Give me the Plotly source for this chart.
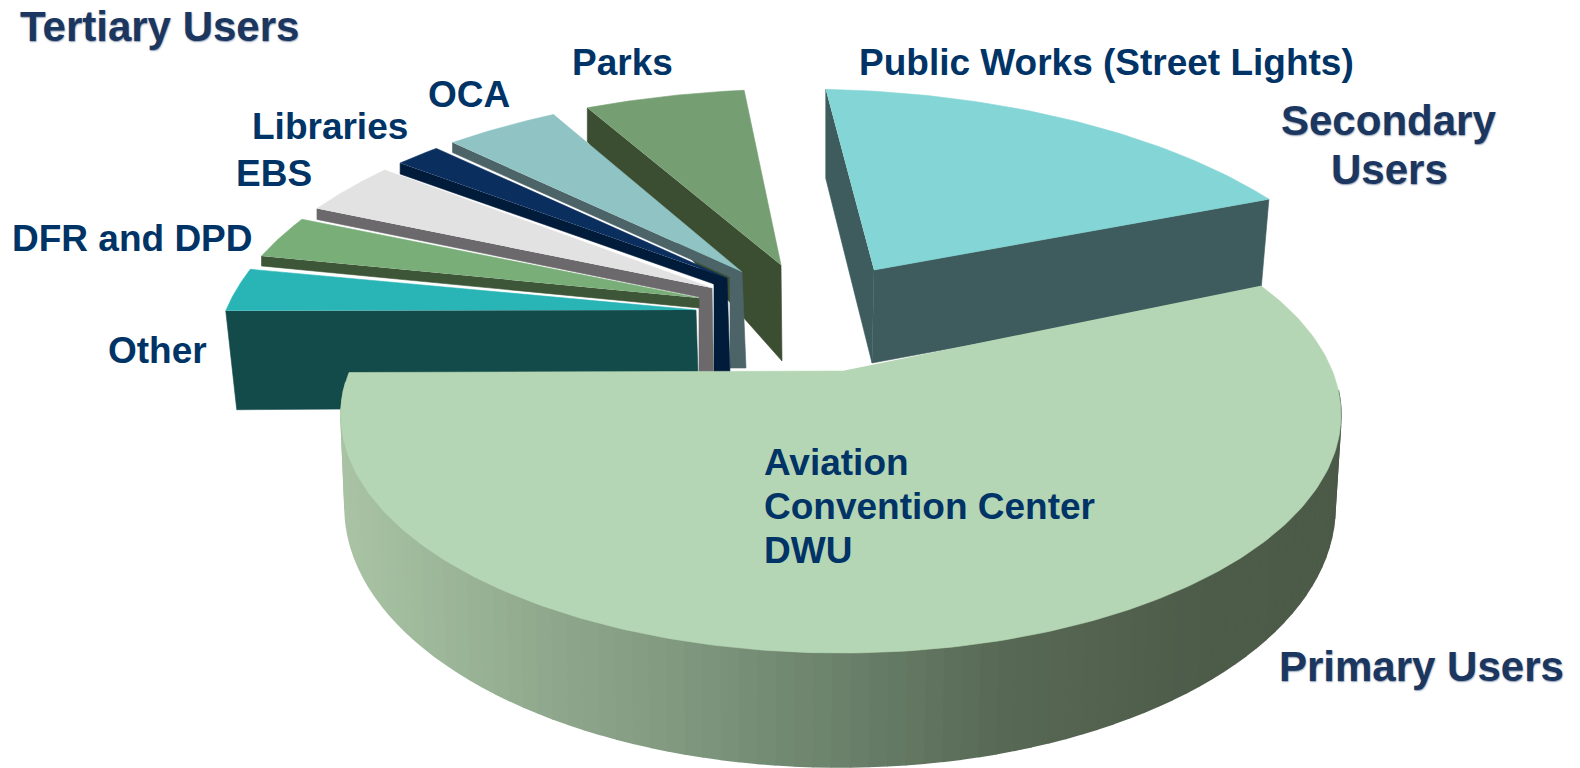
import numpy as np
import plotly.graph_objects as go

# --- data: share of usage (percent of the full circle), clockwise from "Other"
slice_names = ["Other", "DFR and DPD", "EBS", "Libraries", "OCA", "Parks",
               "Public Works (Street Lights)", "Aviation / Convention Center / DWU"]
slice_values = [2.5, 2.4, 2.9, 1.3, 3.2, 4.4, 14.1, 62.0]

# --- styling / layout of the 3-D look
top_colors = ["#29B4B6", "#79AE78", "#E2E2E2", "#0A2E5E", "#8FC3C4", "#759F72", "#84D5D5", "#B5D6B4"]
side_colors = ["#134A4A", "#3E5638", "#6B696B", "#011B3B", "#4C6468", "#3B4E32", "#3E5C5E"]
START_DEG = 169.0
gaps_deg = [3.0, 2.7, 2.1, 2.0, 3.6, 8.0, 3.8]
CX, CY, RX, RY = 800, 363, 585, 274           # back ellipse
P_TOP = (841, 415, 500, 238)                  # primary slice, top rim
P_BOT = (840, 507, 495, 260)                  # primary slice, bottom rim
# explode offsets of each slice's tip from the back-ellipse centre
tip_dx = [-104, -101, -88, -73, -58, -19, 74]
tip_dy = [-53, -65, -75, -85, -91, -98, -93]
primary_tip = (842, 371)
# extrusion: drop and shift of outer corner, inner knee, foot of the side wall
drop_outer = [99, 10, 11, 11, 10, 34, 89]
shift_outer = [11, 0, 0, 0, 0, 0, 0]
knee_dx = [3, 0, -13, -13, -12, None, None]
knee_dy = [97, 10, 9, 6, 5, None, None]
foot_dx = [3, 0, 2, 3, 4, 1, -2]
foot_dy = [97, 10, 112, 94, 96, 96, 93]

grad_x = [340, 700, 1000, 1200, 1345]
grad_r = [170, 125, 88, 78, 76]
grad_g = [196, 150, 106, 92, 90]
grad_b = [165, 125, 86, 74, 72]
BAND_COUNT = 90

label_color = "#003366"
blur_color = "#1B365F"
labels = [
    ("Parks", 570, 62), ("OCA", 426, 94), ("Libraries", 250, 126), ("EBS", 234, 173),
    ("DFR and DPD", 10, 238), ("Other", 106, 350),
    ("Public Works (Street Lights)", 857, 62),
    ("Aviation", 762, 462), ("Convention Center", 762, 506), ("DWU", 762, 550),
]
blur_labels = [("Tertiary Users", 18, 26), ("Secondary", 1279, 120), ("Users", 1329, 169),
               ("Primary Users", 1277, 666)]

fig = go.Figure()


def poly(xs, ys, color, w=0.6):
    fig.add_trace(go.Scatter(x=list(xs), y=list(ys), mode="lines", fill="toself", fillcolor=color,
                             line=dict(color=color, width=w), hoverinfo="skip", showlegend=False))


def rim(t_deg, e):
    t = np.radians(t_deg)
    return e[0] + e[2] * np.cos(t), e[1] - e[3] * np.sin(t)


# angular extents follow from the values
starts, ends = [], []
a = START_DEG
for i, v in enumerate(slice_values):
    starts.append(a)
    ends.append(a - v * 3.6)
    if i < len(gaps_deg):
        a = ends[-1] - gaps_deg[i]

back = (CX, CY, RX, RY)
parts = []
for i in range(len(slice_values) - 1):
    ts = np.linspace(starts[i], ends[i], 60)
    ax_, ay_ = rim(ts, back)
    tip = (CX + tip_dx[i], CY + tip_dy[i])
    # side wall hangs below the radial edge that faces the viewer
    if i < 6:
        ox, oy = ax_[0], ay_[0]
        sx = [ox, ox + shift_outer[i]]
        sy = [oy, oy + drop_outer[i]]
        if knee_dx[i] is not None:
            kx, ky = tip[0] + knee_dx[i], tip[1] + knee_dy[i]
            sx += [kx, kx]
            sy += [ky, tip[1] + foot_dy[i]]
        sx += [tip[0] + foot_dx[i], tip[0]]
        sy += [tip[1] + foot_dy[i], tip[1]]
        side = [(sx, sy)]
    else:
        # secondary shows both radial walls
        fx, fy = tip[0] + foot_dx[i], tip[1] + foot_dy[i]
        side = [([ax_[0], ax_[0], fx, tip[0]], [ay_[0], ay_[0] + drop_outer[i], fy, tip[1]]),
                ([tip[0], ax_[-1], ax_[-1] - 8, fx], [tip[1], ay_[-1], ay_[-1] + 92, fy])]
    parts.append((i, side, ax_, ay_, tip))

# paint back to front
for i in [5, 4, 3, 2, 1, 0, 6]:
    _, side, ax_, ay_, tip = parts[i]
    for sx, sy in side:
        poly(sx, sy, side_colors[i])
    poly(list(ax_) + [tip[0]], list(ay_) + [tip[1]], top_colors[i])

# primary slice: shaded outer wall built from bands, then the top face
bands = np.linspace(172, 366, BAND_COUNT + 1)
for t0, t1 in zip(bands[:-1], bands[1:]):
    tt = np.linspace(t0, t1, 3)
    xa, ya = rim(tt, P_TOP)
    xb, yb = rim(tt[::-1], P_BOT)
    xm = 0.5 * (xa.mean() + xb.mean())
    c = "rgb(%d,%d,%d)" % (np.interp(xm, grad_x, grad_r), np.interp(xm, grad_x, grad_g),
                           np.interp(xm, grad_x, grad_b))
    poly(np.r_[xa, xb], np.r_[ya, yb], c, w=1.6)

ts = np.linspace(starts[7], ends[7], 240)
px, py = rim(ts, P_TOP)
poly(list(px) + [primary_tip[0]], list(py) + [primary_tip[1]], top_colors[7])

for txt, x, y in labels:
    fig.add_annotation(x=x, y=y, text=f"<b>{txt}</b>", showarrow=False, xanchor="left", yanchor="middle",
                       xshift=0, font=dict(family="Liberation Sans", size=37, color=label_color))
for txt, x, y in blur_labels:
    fig.add_annotation(x=x, y=y, text=f"<b>{txt}</b>", showarrow=False, xanchor="left", yanchor="middle",
                       font=dict(family="Liberation Sans", size=42, color=blur_color,
                                 shadow="0.5px 0.5px 1.5px rgba(27,54,95,0.5)"))

fig.update_layout(width=1580, height=768, margin=dict(l=0, r=0, t=0, b=0),
                  paper_bgcolor="white", plot_bgcolor="white", showlegend=False,
                  xaxis=dict(range=[0, 1580], visible=False, fixedrange=True),
                  yaxis=dict(range=[768, 0], visible=False, fixedrange=True))

fig.write_html("out.html", config={"displayModeBar": False},
               post_script="document.body.style.margin='0';document.body.style.overflow='hidden';")
